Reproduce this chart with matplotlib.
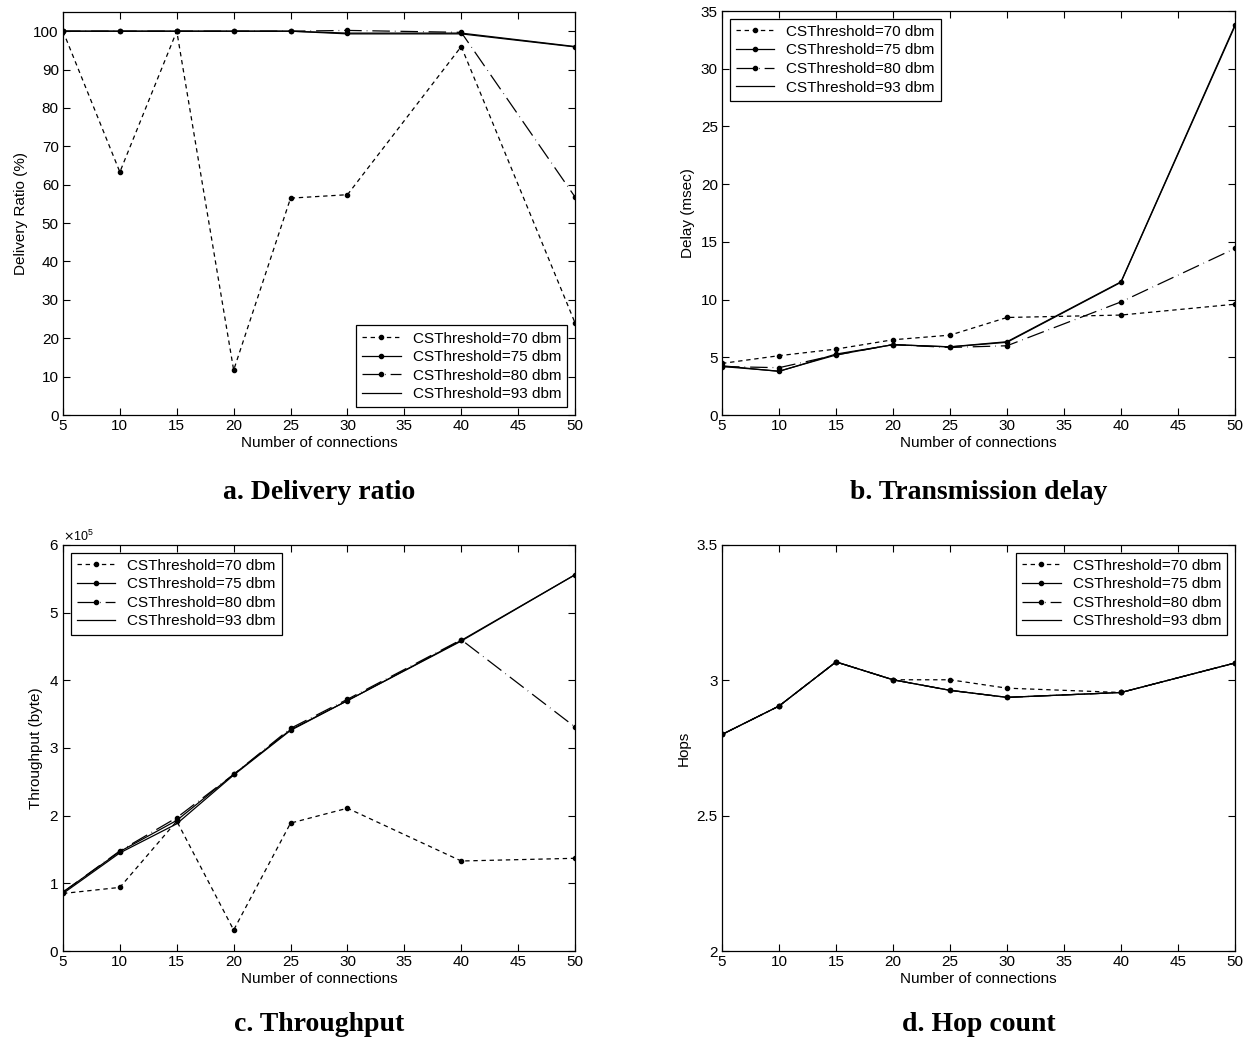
import matplotlib
matplotlib.use("Agg")
import matplotlib.pyplot as plt
from matplotlib.ticker import ScalarFormatter

plt.rcParams['font.family'] = ['Liberation Sans', 'DejaVu Sans']

connections = [5, 10, 15, 20, 25, 30, 40, 50]
labels = ['CSThreshold=70 dbm', 'CSThreshold=75 dbm', 'CSThreshold=80 dbm', 'CSThreshold=93 dbm']

# a. Delivery ratio (%)
ratio_70 = [100, 63.3, 100, 11.7, 56.5, 57.4, 96.0, 24.0]
ratio_75 = [100, 100, 100, 100, 100, 99.5, 99.5, 96.0]
ratio_80 = [100, 100, 100, 100, 100, 100.2, 99.7, 56.8]
ratio_93 = [100, 100, 100, 100, 100, 99.3, 99.3, 95.9]

# b. Transmission delay (msec)
delay_70 = [4.47, 5.14, 5.71, 6.52, 6.92, 8.45, 8.66, 9.6]
delay_75 = [4.27, 3.78, 5.28, 6.09, 5.91, 6.35, 11.54, 33.8]
delay_80 = [4.2, 4.1, 5.2, 6.1, 5.85, 6.0, 9.8, 14.43]
delay_93 = [4.2, 3.8, 5.2, 6.1, 5.9, 6.3, 11.5, 33.7]

# c. Throughput (byte)
thr_70 = [85000, 94000, 192000, 31000, 189000, 211000, 133000, 137000]
thr_75 = [87000, 147000, 193000, 261000, 327000, 370000, 459000, 556000]
thr_80 = [87000, 148000, 197000, 261000, 329000, 372000, 460000, 331000]
thr_93 = [85000, 145000, 188000, 260000, 326000, 370000, 458000, 556000]

# d. Hop count
hops_70 = [2.80, 2.905, 3.068, 3.002, 3.002, 2.971, 2.955, 3.064]
hops_75 = [2.80, 2.905, 3.068, 3.002, 2.963, 2.937, 2.955, 3.064]
hops_80 = [2.80, 2.905, 3.068, 3.002, 2.963, 2.937, 2.955, 3.064]
hops_93 = [2.80, 2.905, 3.068, 3.002, 2.963, 2.937, 2.955, 3.064]

xticks = [5, 10, 15, 20, 25, 30, 35, 40, 45, 50]

styles = [
    dict(linestyle=(0, (3.5, 3)), marker='o', markersize=3),
    dict(linestyle='-', marker='o', markersize=3),
    dict(linestyle=(0, (14, 4, 0.5, 4)), marker='o', markersize=3),
    dict(linestyle='-', marker=None),
]

fig = plt.figure(figsize=(12.52, 10.43), dpi=100)
positions = [
    [0.0503, 0.6021, 0.4090, 0.3864],
    [0.5767, 0.6021, 0.4097, 0.3873],
    [0.0503, 0.0882, 0.4090, 0.3893],
    [0.5767, 0.0882, 0.4097, 0.3893],
]

panels = [
    (connections, [ratio_70, ratio_75, ratio_80, ratio_93], 'Delivery Ratio (%)', (0, 105),
     list(range(0, 101, 10)), 'lower right', 'a. Delivery ratio'),
    (connections, [delay_70, delay_75, delay_80, delay_93], 'Delay (msec)', (0, 35),
     list(range(0, 36, 5)), 'upper left', 'b. Transmission delay'),
    (connections, [thr_70, thr_75, thr_80, thr_93], 'Throughput (byte)', (0, 600000),
     [0, 100000, 200000, 300000, 400000, 500000, 600000], 'upper left', 'c. Throughput'),
    (connections, [hops_70, hops_75, hops_80, hops_93], 'Hops', (2, 3.5),
     [2, 2.5, 3, 3.5], 'upper right', 'd. Hop count'),
]

for i, (x, series, ylabel, ylim, yticks, loc, caption) in enumerate(panels):
    ax = fig.add_axes(positions[i])
    for s, lab, st in zip(series, labels, styles):
        ax.plot(x, s, color='black', linewidth=0.9, label=lab,
                markerfacecolor='black', markeredgecolor='black', **st)
    ax.set_xlim(5, 50)
    ax.set_ylim(*ylim)
    ax.set_xticks(xticks)
    ax.set_yticks(yticks)
    if i == 3:
        ax.set_yticklabels(['2', '2.5', '3', '3.5'])
    if i == 2:
        fmt = ScalarFormatter(useMathText=True)
        fmt.set_powerlimits((0, 0))
        ax.yaxis.set_major_formatter(fmt)
        ax.yaxis.get_offset_text().set_fontsize(9)
    ax.tick_params(direction='in', top=True, right=True, labelsize=11, length=5, width=0.8, pad=3)
    for sp in ax.spines.values():
        sp.set_linewidth(0.9)
    ax.set_xlabel('Number of connections', fontsize=11, labelpad=2)
    ax.set_ylabel(ylabel, fontsize=11, labelpad=4)
    leg = ax.legend(loc=loc, fontsize=11, frameon=True, fancybox=False, framealpha=1,
                    edgecolor='black', handlelength=2.5, borderpad=0.4, labelspacing=0.3)
    leg.get_frame().set_linewidth(0.9)
    cx = positions[i][0] + positions[i][2] / 2
    cy = 0.528 if i < 2 else 0.0173
    fig.text(cx, cy, caption, ha='center', va='center', fontsize=20, fontweight='bold',
             family=['Liberation Serif', 'DejaVu Serif'])

fig.savefig('out.png', dpi=100)
